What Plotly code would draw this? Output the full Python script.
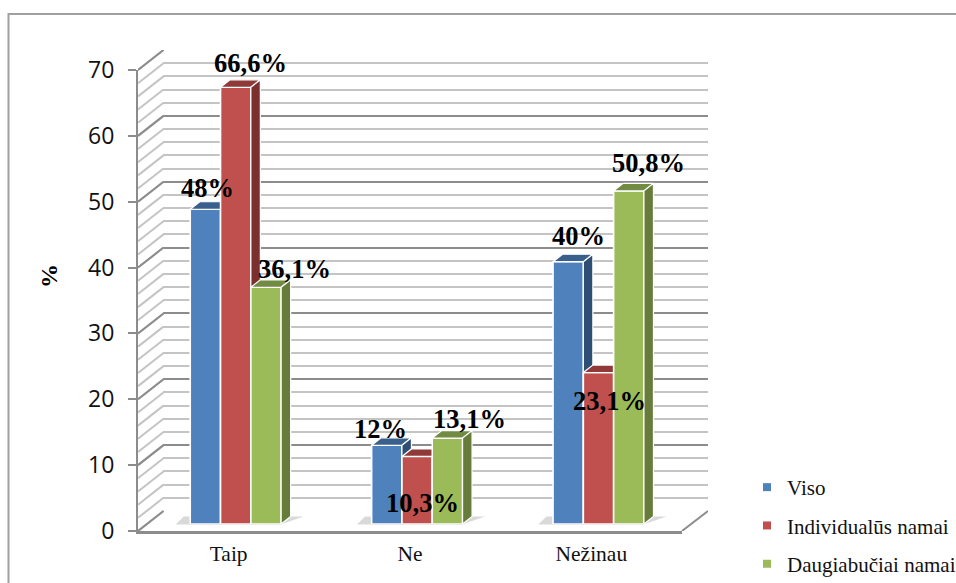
import plotly.graph_objects as go

categories = ["Taip", "Ne", "Nežinau"]
series_names = ["Viso", "Individualūs namai", "Daugiabučiai namai"]
viso = [48, 12, 40]
individualus = [66.6, 10.3, 23.1]
daugiabuciai = [36.1, 13.1, 50.8]
labels = [["48%", "12%", "40%"], ["66,6%", "10,3%", "23,1%"], ["36,1%", "13,1%", "50,8%"]]
# label nudges in pixels relative to bar top centre
label_dx = [[2, -6, 10], [15, 5, 11], [28, 22, 20]]
label_dy = [[21, 16, 26], [24, -47, -28], [18, 19, 28]]
y_ticks = [0, 10, 20, 30, 40, 50, 60, 70]

W, H = 956, 583
FRONT = ("#4F81BD", "#C0504D", "#9BBB59")
TOPS = ("#3A5F8D", "#8F3A38", "#728B42")
SIDES = ("#2F4E74", "#7B302E", "#677C3A")
MAJOR = "#8C8C8C"
MINOR = "#C4C4C4"
SERIF = "Liberation Serif"

def px_x(a): return a / W
def px_y(b): return 1 - b / H
def dx(a, b): return [px_x(a), px_x(b)]
def dy(bottom, top): return [px_y(bottom), px_y(top)]

CAT_PX = 181.4
VAL_PX = 6.56
DEPTH_X = 9.5 / CAT_PX
DEPTH_Y = 7.5 / VAL_PX
BAR_W = 30.3 / CAT_PX
OFFS = [-1.5 * BAR_W, -0.5 * BAR_W, 0.5 * BAR_W]
WALL_DX = 25.5
WALL_DY = 20 / 6.586
FRAME_W = 570

fig = go.Figure()

# back wall: gridlines only, needs one trace to exist
fig.add_trace(go.Scatter(x=[None], y=[None], showlegend=False, hoverinfo="skip", xaxis="x", yaxis="y"))

# side wall diagonals and floor edge (frame subplot, x in pixels of depth)
for step, col, w in ((2, MINOR, 2), (10, MAJOR, 2)):
    xs, ys = [], []
    for v in range(0, 71, step):
        xs += [0, WALL_DX, None]
        ys += [v, v + WALL_DY, None]
    fig.add_trace(go.Scatter(x=xs, y=ys, mode="lines", line=dict(color=col, width=w),
                             cliponaxis=False, showlegend=False, hoverinfo="skip",
                             xaxis="x2", yaxis="y2"))
fig.add_trace(go.Scatter(x=[FRAME_W - WALL_DX - 0.5, FRAME_W], y=[0, WALL_DY], mode="lines",
                         line=dict(color=MAJOR, width=2), cliponaxis=False,
                         showlegend=False, hoverinfo="skip", xaxis="x2", yaxis="y2"))

# floor shadows
for i in range(3):
    px = lambda p: i + p / CAT_PX
    fig.add_trace(go.Scatter(
        x=[px(-53), px(-45), px(75), px(52), px(-53)],
        y=[1.0, 2.2, 2.2, 1.0, 1.0],
        mode="lines", fill="toself", line=dict(width=0), fillcolor="rgba(170,170,170,0.45)",
        cliponaxis=False, showlegend=False, hoverinfo="skip", xaxis="x3", yaxis="y3"))

# bars, one overlay subplot per series so later series cover earlier sides
for s, vals in enumerate((viso, individualus, daugiabuciai)):
    xa, ya = f"x{s + 4}", f"y{s + 4}"
    fig.add_trace(go.Bar(x=[0, 1, 2], y=vals, width=BAR_W, offset=OFFS[s],
                         marker=dict(color=FRONT[s], line=dict(color="white", width=1.6)),
                         showlegend=False, hoverinfo="skip", xaxis=xa, yaxis=ya))
    for i, v in enumerate(vals):
        xl = i + OFFS[s]
        xr = xl + BAR_W
        fig.add_trace(go.Scatter(
            x=[xl, xl + DEPTH_X, xr + DEPTH_X, xr, xl],
            y=[v, v + DEPTH_Y, v + DEPTH_Y, v, v],
            mode="lines", fill="toself", fillcolor=TOPS[s], line=dict(color="white", width=1.2),
            cliponaxis=False, showlegend=False, hoverinfo="skip", xaxis=xa, yaxis=ya))
        fig.add_trace(go.Scatter(
            x=[xr, xr + DEPTH_X, xr + DEPTH_X, xr, xr],
            y=[0, DEPTH_Y, v + DEPTH_Y, v, 0],
            mode="lines", fill="toself", fillcolor=SIDES[s], line=dict(color="white", width=1.2),
            cliponaxis=False, showlegend=False, hoverinfo="skip", xaxis=xa, yaxis=ya))

# legend keys
for s, name in enumerate(series_names):
    fig.add_trace(go.Scatter(x=[None], y=[None], mode="markers", name=name, legendgroup=name,
                             marker=dict(symbol="square", size=8, color=FRONT[s]),
                             xaxis="x3", yaxis="y3"))

annotations = []
for s, vals in enumerate((viso, individualus, daugiabuciai)):
    for i, v in enumerate(vals):
        annotations.append(dict(
            xref=f"x{s + 4}", yref=f"y{s + 4}", x=i + OFFS[s] + BAR_W / 2, y=v,
            text=f"<b>{labels[s][i]}</b>", showarrow=False,
            xshift=label_dx[s][i], yshift=label_dy[s][i],
            font=dict(family=SERIF, size=26.5, color="black")))
annotations.append(dict(xref="paper", yref="paper", x=px_x(49), y=px_y(276),
                        xanchor="center", yanchor="middle",
                        text="<b>%</b>", showarrow=False, textangle=-90,
                        font=dict(family=SERIF, size=24, color="black")))

bar_x = dict(range=[-0.5, 2.5], visible=False, fixedrange=True)
bar_y = dict(range=[0, 70], visible=False, fixedrange=True)

fig.update_layout(
    width=W, height=H, margin=dict(l=0, r=0, t=0, b=0, autoexpand=False),
    paper_bgcolor="white", plot_bgcolor="rgba(0,0,0,0)", barmode="overlay",
    # back wall
    xaxis=dict(domain=dx(163, 708), range=[-0.5, 2.5], visible=False),
    yaxis=dict(domain=dy(511, 50), range=[0, 70], tickvals=y_ticks, showticklabels=False,
               ticks="", showline=False, showgrid=True, gridcolor=MAJOR, gridwidth=2,
               zeroline=False, minor=dict(dtick=2, showgrid=True, gridcolor=MINOR, gridwidth=2)),
    # frame of side wall and floor
    xaxis2=dict(domain=dx(138, 708), range=[0, FRAME_W], anchor="y2", visible=False),
    yaxis2=dict(domain=dy(531, 50), range=[0, 70 + WALL_DY], anchor="x2", visible=False),
    # front axis
    xaxis3=dict(domain=dx(138, 682), range=[-0.5, 2.5], anchor="y3", tickvals=[0, 1, 2],
                ticktext=categories, showgrid=False, zeroline=False, showline=True,
                linecolor=MAJOR, linewidth=3, ticks="", ticklabelstandoff=1,
                tickfont=dict(family=SERIF, size=21.5, color="#111")),
    yaxis3=dict(domain=dy(531, 70), range=[0, 70], anchor="x3", tickvals=y_ticks,
                showgrid=False, zeroline=False, showline=True, linecolor=MAJOR, linewidth=2,
                ticks="outside", ticklen=8, tickwidth=2, tickcolor=MAJOR, ticklabelstandoff=9,
                tickfont=dict(family="Open Sans", size=23, color="#111")),
    # bar plane
    xaxis4=dict(domain=dx(145, 689.2), anchor="y4", **bar_x),
    yaxis4=dict(domain=dy(524, 65), anchor="x4", **bar_y),
    xaxis5=dict(overlaying="x4", anchor="y5", **bar_x),
    yaxis5=dict(overlaying="y4", anchor="x5", **bar_y),
    xaxis6=dict(overlaying="x4", anchor="y6", **bar_x),
    yaxis6=dict(overlaying="y4", anchor="x6", **bar_y),
    legend=dict(x=px_x(747), y=px_y(467), xanchor="left", yanchor="top",
                bgcolor="rgba(0,0,0,0)", tracegroupgap=8, traceorder="grouped",
                font=dict(family=SERIF, size=21, color="#111")),
    annotations=annotations,
    shapes=[dict(type="path", xref="paper", yref="paper",
                 path=f"M {px_x(8.5)} 0 L {px_x(8.5)} {px_y(14)} L 1 {px_y(14)}",
                 line=dict(color="#A0A0A0", width=2))],
    hovermode=False,
)
fig.write_html(
    "out.html",
    config={"displayModeBar": False},
    post_script="document.body.style.margin='0';document.documentElement.style.overflow='hidden';",
)
